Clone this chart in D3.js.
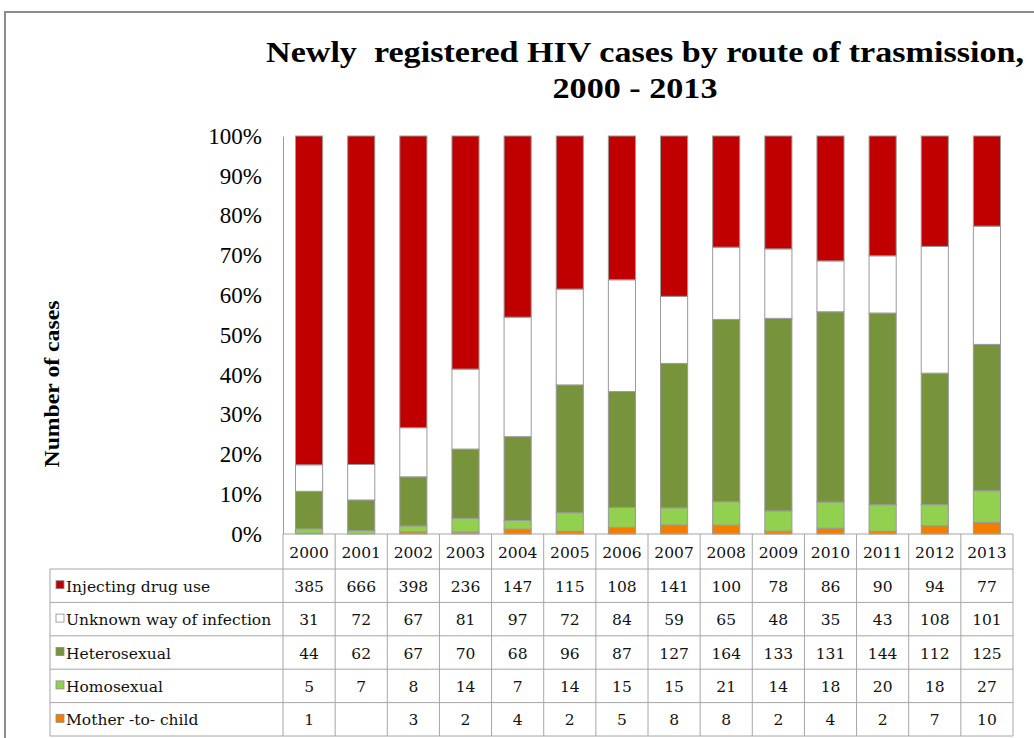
<!DOCTYPE html>
<html>
<head>
<meta charset="utf-8">
<script src="https://cdn.jsdelivr.net/npm/d3@7"></script>
<style>
  body { margin: 0; background: #fff; }
  svg { display: block; }
  text { font-family: "Liberation Serif", "Times New Roman", serif; fill: #000; }
  .tbl { font-family: "DejaVu Serif", serif; font-size: 15.5px; fill: #111; }
</style>
</head>
<body>
<svg id="chart" width="1034" height="738"></svg>
<script>
// data
var years = ["2000","2001","2002","2003","2004","2005","2006","2007","2008","2009","2010","2011","2012","2013"];
var injecting   = [385, 666, 398, 236, 147, 115, 108, 141, 100, 78, 86, 90, 94, 77];
var unknown     = [31, 72, 67, 81, 97, 72, 84, 59, 65, 48, 35, 43, 108, 101];
var hetero      = [44, 62, 67, 70, 68, 96, 87, 127, 164, 133, 131, 144, 112, 125];
var homo        = [5, 7, 8, 14, 7, 14, 15, 15, 21, 14, 18, 20, 18, 27];
var motherChild = [1, null, 3, 2, 4, 2, 5, 8, 8, 2, 4, 2, 7, 10];
var yTicks = [0, 0.1, 0.2, 0.3, 0.4, 0.5, 0.6, 0.7, 0.8, 0.9, 1];

// table rows top to bottom, stacking is the reverse
var series = [
  {name: "Injecting drug use", values: injecting, color: "#c00000"},
  {name: "Unknown way of infection", values: unknown, color: "#ffffff"},
  {name: "Heterosexual", values: hetero, color: "#77933c"},
  {name: "Homosexual", values: homo, color: "#92d050"},
  {name: "Mother -to- child", values: motherChild, color: "#f47d00"}
];

const svg = d3.select("#chart");
const plotLeft = 283, plotRight = 1013, plotTop = 136, plotBottom = 534;
const tableLeft = 50, headerH = 35, rowH = 33.4;

// outer frame
svg.append("rect")
  .attr("x", 5).attr("y", 12).attr("width", 1040).attr("height", 740)
  .attr("fill", "none").attr("stroke", "#8c8c8c").attr("stroke-width", 2);

// title
svg.append("text")
  .attr("x", 645).attr("y", 62)
  .attr("text-anchor", "middle")
  .attr("font-size", 29).attr("font-weight", "bold")
  .attr("textLength", 758).attr("lengthAdjust", "spacingAndGlyphs")
  .style("white-space", "pre")
  .text("Newly  registered HIV cases by route of trasmission,");
svg.append("text")
  .attr("x", 635).attr("y", 98)
  .attr("text-anchor", "middle")
  .attr("font-size", 29).attr("font-weight", "bold")
  .attr("textLength", 165).attr("lengthAdjust", "spacingAndGlyphs")
  .text("2000 - 2013");

// y axis title
svg.append("text")
  .attr("transform", "translate(59,384) rotate(-90)")
  .attr("text-anchor", "middle")
  .attr("font-size", 21).attr("font-weight", "bold")
  .attr("textLength", 167).attr("lengthAdjust", "spacingAndGlyphs")
  .text("Number of cases");

var x = d3.scaleBand().domain(years).range([plotLeft, plotRight]).paddingInner(0.48).paddingOuter(0.24);
var col = d3.scaleBand().domain(years).range([plotLeft, plotRight]);
var y = d3.scaleLinear().domain([0, 1]).range([plotBottom, plotTop]);

// stack data
var rows = years.map(function(yr, i) {
  var r = {year: yr};
  series.forEach(function(s) { r[s.name] = s.values[i] || 0; });
  return r;
});
var keys = series.map(function(s) { return s.name; }).reverse();
var stack = d3.stack().keys(keys).offset(d3.stackOffsetExpand)(rows);
var colorOf = {};
series.forEach(function(s) { colorOf[s.name] = s.color; });

svg.append("g").selectAll("g")
  .data(stack)
  .enter().append("g")
  .attr("fill", function(d) { return colorOf[d.key]; })
  .selectAll("rect")
  .data(function(d) { return d; })
  .enter().append("rect")
  .attr("x", function(d) { return x(d.data.year); })
  .attr("y", function(d) { return y(d[1]); })
  .attr("width", x.bandwidth())
  .attr("height", function(d) { return Math.max(0, y(d[0]) - y(d[1])); })
  .attr("stroke", "#9a9a9a").attr("stroke-width", function(d) { return d[1] - d[0] > 0 ? 1 : 0; });

// y axis
var yAxis = d3.axisLeft(y).tickValues(yTicks).tickFormat(d3.format(".0%")).tickSize(0).tickPadding(21);
var gY = svg.append("g").attr("transform", "translate(" + plotLeft + ",0)").call(yAxis);
gY.select(".domain").attr("stroke", "#9a9a9a");
gY.selectAll("text").attr("font-size", 23).attr("font-family", "Liberation Serif, serif").attr("fill", "#111");

// data table
var lineColor = "#a6a6a6";
var table = svg.append("g");
var tableBottom = plotBottom + headerH + rowH * series.length;

// header (years)
table.selectAll(".yr")
  .data(years).enter().append("text")
  .attr("class", "tbl")
  .attr("x", function(d) { return col(d) + col.bandwidth() / 2; })
  .attr("y", plotBottom + headerH / 2 + 6)
  .attr("text-anchor", "middle")
  .text(function(d) { return d; });

// horizontal lines
table.append("line").attr("x1", plotLeft).attr("x2", plotRight).attr("y1", plotBottom).attr("y2", plotBottom)
  .attr("stroke", lineColor);
d3.range(series.length + 1).forEach(function(i) {
  var yy = plotBottom + headerH + i * rowH;
  table.append("line").attr("x1", tableLeft).attr("x2", plotRight).attr("y1", yy).attr("y2", yy)
    .attr("stroke", lineColor);
});
// vertical lines
table.append("line").attr("x1", tableLeft).attr("x2", tableLeft)
  .attr("y1", plotBottom + headerH).attr("y2", tableBottom).attr("stroke", lineColor);
years.forEach(function(yr) {
  table.append("line").attr("x1", col(yr)).attr("x2", col(yr))
    .attr("y1", plotBottom).attr("y2", tableBottom).attr("stroke", lineColor);
});
table.append("line").attr("x1", plotRight).attr("x2", plotRight)
  .attr("y1", plotBottom).attr("y2", tableBottom).attr("stroke", lineColor);

// rows
series.forEach(function(s, i) {
  var cy = plotBottom + headerH + i * rowH + rowH / 2 + 6;
  table.append("rect")
    .attr("x", tableLeft + 6).attr("y", cy - 11).attr("width", 8).attr("height", 8)
    .attr("fill", s.color).attr("stroke", "#8c8c8c").attr("stroke-width", 0.8);
  table.append("text")
    .attr("class", "tbl")
    .attr("x", tableLeft + 16).attr("y", cy)
    .text(s.name);
  table.selectAll(".v" + i)
    .data(s.values).enter().append("text")
    .attr("class", "tbl")
    .attr("x", function(d, j) { return col(years[j]) + col.bandwidth() / 2; })
    .attr("y", cy)
    .attr("text-anchor", "middle")
    .text(function(d) { return d == null ? "" : d; });
});
</script>
</body>
</html>
